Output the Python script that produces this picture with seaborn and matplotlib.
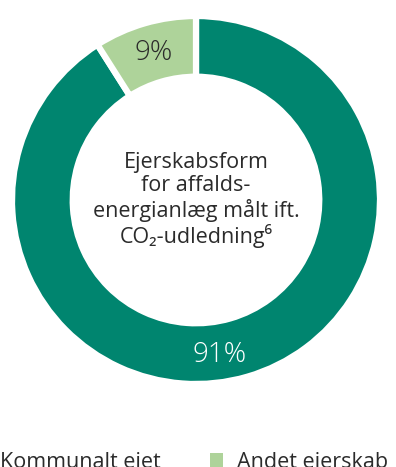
import matplotlib
matplotlib.use("Agg")
import matplotlib.pyplot as plt
import seaborn as sns
from matplotlib.patches import Patch

categories = ["Kommunalt ejet", "Andet ejerskab"]
values = [91, 9]
labels = ["91%", "9%"]
colors = ["#00856f", "#aed39a"]
center_text = "Ejerskabsform\nfor affalds-\nenergianlæg målt ift.\nCO₂-udledning⁶"

sns.set_theme(style="white")
plt.rcParams["font.family"] = ["Open Sans", "DejaVu Sans"]

W, H = 396, 467
fig = plt.figure(figsize=(W / 100, H / 100), dpi=100)
cx, cy, r = 196, 200, 184
ax = fig.add_axes([(cx - r) / W, (H - cy - r) / H, 2 * r / W, 2 * r / H])

wedges, _ = ax.pie(values, colors=colors, startangle=90, counterclock=False,
                   radius=1, wedgeprops=dict(width=0.33, edgecolor="white", linewidth=4.5))
ax.set_xlim(-1, 1)
ax.set_ylim(-1, 1)
ax.set_aspect("equal")
ax.axis("off")

ax.text(0.13, -0.84, labels[0], ha="center", va="center", color="white",
        fontsize=20, fontweight="light")
ax.text(-0.23, 0.80, labels[1], ha="center", va="center", color="#2b2b2b",
        fontsize=20, fontweight="light")
ax.text(0, 0.0, center_text, ha="center", va="center", color="#2b2b2b",
        fontsize=15.5, linespacing=1.15)

handles = [Patch(facecolor=c, edgecolor="none") for c in colors]
fig.legend(handles, categories, loc="lower left", bbox_to_anchor=(-27 / W, -6 / H),
           ncol=2, frameon=False, fontsize=15.5, handlelength=0.62, handleheight=0.62,
           handletextpad=0.62, columnspacing=2.3, borderpad=0, borderaxespad=0,
           labelcolor="#2b2b2b")

fig.savefig("out.png", dpi=100)
